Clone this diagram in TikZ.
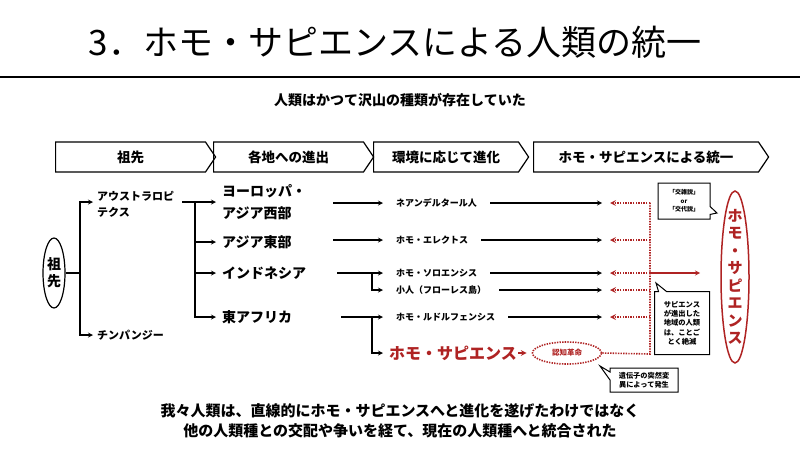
\documentclass[tikz,border=0pt]{standalone}
\usepackage{fontspec}
\setmainfont{Noto Sans CJK JP}
\usetikzlibrary{positioning,shapes.geometric,shapes.symbols,shapes.callouts}
\tikzset{>=stealth}
\definecolor{sapred}{RGB}{175,35,35}
\tikzset{
  stage/.style={draw, line width=1.2pt, signal, signal to=east, signal pointer angle=112,
    minimum height=30, anchor=west, inner sep=0, font=\bfseries\fontsize{13.5}{16}\selectfont},
  region/.style={anchor=west, inner xsep=6pt, inner ysep=0, align=left,
    font=\bfseries\fontsize{14}{22}\selectfont},
  kind/.style={anchor=west, inner xsep=13pt, inner ysep=0, font=\bfseries\fontsize{9}{11}\selectfont},
  note/.style={draw, line width=1pt, rectangle callout, callout pointer width=8,
    align=center, inner sep=1pt, fill=white},
  link/.style={line width=1.2pt},
  meet/.style={sapred, line width=1.6pt, dash pattern=on 1.4pt off 1.2pt},
}

\begin{document}
\begin{tikzpicture}[x=1pt,y=-1pt]
  \useasboundingbox (0,0) rectangle (800,450);

  % title and lead
  \node[font=\fontsize{35}{40}\selectfont] (title) at (395,42) {3．ホモ・サピエンスによる人類の統一};
  \draw[line width=2pt] (0,77) -- (800,77);
  \node[font=\bfseries\fontsize{14}{16}\selectfont] (lead) at (400,100) {人類はかつて沢山の種類が存在していた};

  % stages
  \node[stage, minimum width=160] (s1) at (55,157) {祖先};
  \node[stage, minimum width=160] (s2) at (213,157) {各地への進出};
  \node[stage, minimum width=155] (s3) at (373,157) {環境に応じて進化};
  \node[stage, minimum width=235] (s4) at (533,157) {ホモ・サピエンスによる統一};

  % ancestor tree
  \node[draw, ellipse, link, minimum width=22, minimum height=70, inner sep=0, align=center,
    font=\bfseries\fontsize{14}{17}\selectfont] (anc) at (54,273) {祖\\先};
  \node[anchor=north west, inner sep=0, align=left, font=\bfseries\fontsize{11}{16}\selectfont]
    (aus) at (97,191) {アウストラロピ\\テクス};
  \node[anchor=west, inner sep=0, font=\bfseries\fontsize{11}{13}\selectfont] (chimp) at (97,335) {チンパンジー};
  \coordinate (fork0) at (80,273);
  \coordinate (ausin) at (93,202);
  \coordinate (chimpin) at (93,335);
  \draw[link,->] (anc.east) -- (fork0) |- (ausin);
  \draw[link,->] (fork0) |- (chimpin);

  \node[region] (eu) at (216,202) {ヨーロッパ・\\アジア西部};
  \node[region] (ase) at (216,242) {アジア東部};
  \node[region] (ind) at (216,273) {インドネシア};
  \node[region] (afr) at (216,317) {東アフリカ};
  \coordinate (ausout) at (182,202);
  \coordinate (fork1) at (195,202);
  \draw[link] (ausout) -- (fork1);
  \foreach \r in {eu,ase,ind,afr}
    \draw[link,->] (fork1) |- (\r.west);

  % kinds of humans
  \node[kind] (nea) at (383,203) {ネアンデルタール人};
  \node[kind] (ere) at (383,240) {ホモ・エレクトス};
  \node[kind] (sol) at (383,273) {ホモ・ソロエンシス};
  \node[kind] (flo) at (383,290) {小人（フローレス島）};
  \node[kind] (rud) at (383,317) {ホモ・ルドルフェンシス};
  \node[anchor=west, inner xsep=1pt, inner ysep=0, text=sapred, font=\bfseries\fontsize{16}{18}\selectfont]
    (sap) at (388,353) {ホモ・サピエンス};
  \node[draw, ellipse, meet, minimum width=69, minimum height=22, inner sep=0,
    font=\bfseries\fontsize{7.5}{9}\selectfont] (kog) at (567,353) {認知革命};

  \coordinate (euout) at (333,203);
  \coordinate (aseout) at (333,240);
  \coordinate (indout) at (337,273);
  \coordinate (indfork) at (372,273);
  \coordinate (afrout) at (341,317);
  \coordinate (afrfork) at (372,317);
  \draw[link,->] (euout) -- (nea.west);
  \draw[link,->] (aseout) -- (ere.west);
  \draw[link,->] (indout) -- (sol.west);
  \draw[link,->] (indfork) |- (flo.west);
  \draw[link,->] (afrout) -- (rud.west);
  \draw[link,->] (afrfork) |- ([xshift=-5pt]sap.west);
  \draw[sapred,line width=1.6pt,->,shorten >=5pt] (sap.east) -- (kog.west);

  \coordinate (endline) at (602,0);
  \foreach \s in {nea,ere,sol,flo,rud}
    \draw[link,->] (\s.east) -- (endline |- \s);

  % merging back
  \coordinate (mtop) at (650,202);
  \coordinate (mbot) at (650,354);
  \coordinate (mout) at (700,273);
  \draw[meet] (kog.east) -- (mbot) -- (mtop);
  \foreach \s in {nea,ere,sol,flo,rud}
    \draw[meet,->] (mtop |- \s) -- ([xshift=8pt]endline |- \s);
  \draw[sapred,link,->] (mtop |- sol) -- (mout);

  \node[draw=sapred, ellipse, line width=1.5pt, minimum width=28, minimum height=172] (sapring) at (735,277) {};
  \node[text=sapred, align=center, inner sep=0, font=\bfseries\fontsize{15}{17.5}\selectfont]
    (sapbig) at (sapring.center) {ホ\\モ\\・\\サ\\ピ\\エ\\ン\\ス};

  % notes
  \node[note, callout absolute pointer={(717,213)}, minimum width=52, minimum height=36,
    font=\bfseries\fontsize{6}{8.5}\selectfont] (hyp) at (684,201) {「交雑説」\\or\\「交代説」};
  \node[note, callout absolute pointer={(656,283)}, minimum width=55, minimum height=63,
    font=\bfseries\fontsize{7.3}{9.3}\selectfont] (gone) at (682,323) {サピエンス\\が進出した\\地域の人類\\は、ことご\\とく絶滅};
  \node[note, callout absolute pointer={(600,366)}, minimum width=68, minimum height=24,
    font=\bfseries\fontsize{7.2}{9.5}\selectfont] (mut) at (644,380) {遺伝子の突然変\\異によって発生};

  % summary
  \node[align=center, font=\bfseries\fontsize{15}{20}\selectfont] (moral) at (400,421)
    {我々人類は、直線的にホモ・サピエンスへと進化を遂げたわけではなく\\他の人類種との交配や争いを経て、現在の人類種へと統合された};
\end{tikzpicture}
\end{document}
